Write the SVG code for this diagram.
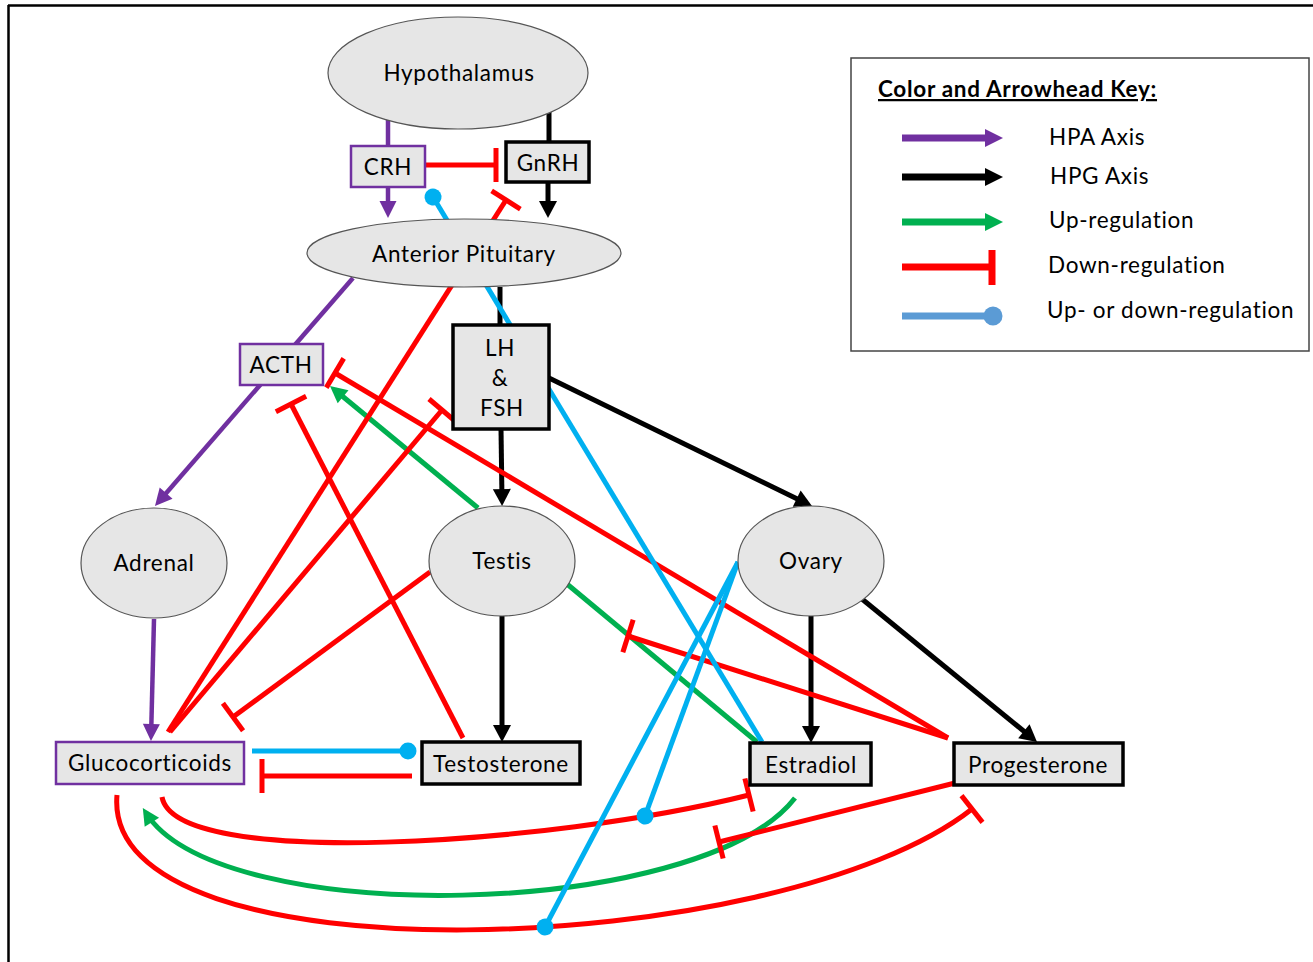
<svg xmlns="http://www.w3.org/2000/svg" width="1313" height="962" viewBox="0 0 1313 962">
<defs>
<style>
.t{font-family:Lato,"Liberation Sans",sans-serif;font-size:22.5px;letter-spacing:0.7px;fill:#000;text-anchor:middle}
.lt{font-family:Lato,"Liberation Sans",sans-serif;font-size:22.5px;letter-spacing:0.7px;fill:#000}
.ell{fill:#E6E6E6;stroke:#555;stroke-width:1.2}
.bp{fill:#E6E6E6;stroke:#7030A0;stroke-width:2.5}
.bk{fill:#E6E6E6;stroke:#000;stroke-width:3.5}
.c{fill:none;stroke-width:5;stroke-linecap:butt}
.pu{stroke:#7030A0;stroke-width:4.5}
.bl{stroke:#000}
.rd{stroke:#FF0000}
.gr{stroke:#00B050}
.cy{stroke:#00B0F0}
</style>
<marker id="aP" viewBox="-12 -10 20 20" markerWidth="20" markerHeight="20" refX="0" refY="0" orient="auto" markerUnits="userSpaceOnUse"><path d="M-11,-8.5 L6,0 L-11,8.5 Z" fill="#7030A0"/></marker>
<marker id="aK" viewBox="-12 -10 20 20" markerWidth="20" markerHeight="20" refX="0" refY="0" orient="auto" markerUnits="userSpaceOnUse"><path d="M-11,-9 L6,0 L-11,9 Z" fill="#000"/></marker>
<marker id="aG" viewBox="-12 -10 20 20" markerWidth="20" markerHeight="20" refX="0" refY="0" orient="auto" markerUnits="userSpaceOnUse"><path d="M-11,-8.5 L6,0 L-11,8.5 Z" fill="#00B050"/></marker>
<marker id="tR" viewBox="-4 -20 8 40" markerWidth="8" markerHeight="40" refX="0" refY="0" orient="auto" markerUnits="userSpaceOnUse"><path d="M0,-17 L0,17" stroke="#FF0000" stroke-width="5"/></marker>
<marker id="cB" viewBox="-10 -10 20 20" markerWidth="20" markerHeight="20" refX="0" refY="0" orient="auto" markerUnits="userSpaceOnUse"><circle r="8.5" fill="#00B0F0"/></marker>
</defs>
<rect width="1313" height="962" fill="#fff"/>
<path d="M8,5.5 L1313,5.5 M8.5,5 L8.5,962" stroke="#000" stroke-width="2.5" fill="none"/>

<g id="connectors">
<!-- purple HPA -->
<path class="c pu" d="M388,119 L388,146"/>
<path class="c pu" d="M388,187 L388,212" marker-end="url(#aP)"/>
<path class="c pu" d="M353,278 L158.9,501.5" marker-end="url(#aP)"/>
<path class="c pu" d="M154,619 L151.1,735" marker-end="url(#aP)"/>
<!-- black HPG -->
<path class="c bl" d="M549,112 L549,142"/>
<path class="c bl" d="M548,182 L548,212" marker-end="url(#aK)"/>
<path class="c bl" d="M500,287 L500,325"/>
<path class="c bl" d="M501,429 L502,500" marker-end="url(#aK)"/>
<path class="c bl" d="M549,378 L806.6,503.4" marker-end="url(#aK)"/>
<path class="c bl" d="M502,616 L502,736" marker-end="url(#aK)"/>
<path class="c bl" d="M811,616 L811,737" marker-end="url(#aK)"/>
<path class="c bl" d="M862,599 L1032.4,738.2" marker-end="url(#aK)"/>
<!-- green up-regulation -->
<path class="c gr" d="M478,508 L334.6,389.8" marker-end="url(#aG)"/>
<path class="c gr" d="M567,584 L757,742"/>
<path class="c gr" d="M795,798 C700,920 220,930 146,813" marker-end="url(#aG)"/>
<!-- red down-regulation -->
<path class="c rd" d="M425,165 L496,165" marker-end="url(#tR)"/>
<path class="c rd" d="M168,732 L506,200" marker-end="url(#tR)"/>
<path class="c rd" d="M170,732 L442,410" marker-end="url(#tR)"/>
<path class="c rd" d="M430,572 L233,717" marker-end="url(#tR)"/>
<path class="c rd" d="M463,738 L291,404" marker-end="url(#tR)"/>
<path class="c rd" d="M948,738 L335,373" marker-end="url(#tR)"/>
<path class="c rd" d="M948,738 L628,636" marker-end="url(#tR)"/>
<path class="c rd" d="M412,776 L262,776" marker-end="url(#tR)"/>
<path class="c rd" d="M162,797 C175,870 550,845 749,795" marker-end="url(#tR)"/>
<path class="c rd" d="M117,795 C100,985 780,960 972,809" marker-end="url(#tR)"/>
<path class="c rd" d="M955,783 L719,842" marker-end="url(#tR)"/>
<!-- blue up-or-down -->
<path class="c cy" d="M762,742 L433,197" marker-end="url(#cB)"/>
<path class="c cy" d="M252,751 L408,751" marker-end="url(#cB)"/>
<path class="c cy" d="M738,562 L645,816" marker-end="url(#cB)"/>
<path class="c cy" d="M738,562 L545,927" marker-end="url(#cB)"/>
</g>

<g id="hypothalamus"><ellipse class="ell" cx="458" cy="73" rx="130" ry="56"/><text class="t" x="459" y="81">Hypothalamus</text></g>
<g id="crh"><rect class="bp" x="351" y="146" width="74" height="41"/><text class="t" x="388" y="175">CRH</text></g>
<g id="gnrh"><rect class="bk" x="506" y="142" width="83" height="40"/><text class="t" x="548" y="171">GnRH</text></g>
<g id="anterior-pituitary"><ellipse class="ell" cx="464" cy="253" rx="157" ry="34"/><text class="t" x="464" y="262">Anterior Pituitary</text></g>
<g id="acth"><rect class="bp" x="240" y="344" width="83" height="41"/><text class="t" x="281" y="373">ACTH</text></g>
<g id="lh-fsh"><rect class="bk" x="453" y="325" width="96" height="104"/><text class="t" x="500" y="356">LH</text><text class="t" x="500" y="386">&amp;</text><text class="t" x="502" y="416">FSH</text></g>
<g id="adrenal"><ellipse class="ell" cx="154" cy="563" rx="73" ry="55"/><text class="t" x="154" y="571">Adrenal</text></g>
<g id="testis"><ellipse class="ell" cx="502" cy="561" rx="73" ry="55"/><text class="t" x="502" y="569">Testis</text></g>
<g id="ovary"><ellipse class="ell" cx="811" cy="561" rx="73" ry="55"/><text class="t" x="811" y="569">Ovary</text></g>
<g id="glucocorticoids"><rect class="bp" x="56" y="742" width="188" height="42"/><text class="t" x="150" y="771">Glucocorticoids</text></g>
<g id="testosterone"><rect class="bk" x="422" y="742" width="158" height="42"/><text class="t" x="501" y="772">Testosterone</text></g>
<g id="estradiol"><rect class="bk" x="750" y="743" width="121" height="42"/><text class="t" x="811" y="773">Estradiol</text></g>
<g id="progesterone"><rect class="bk" x="954" y="743" width="169" height="42"/><text class="t" x="1038" y="773">Progesterone</text></g>

<g id="legend">
<rect x="851" y="58" width="458" height="293" fill="#fff" stroke="#444" stroke-width="1.5"/>
<text class="lt" x="878" y="97" font-weight="bold" text-decoration="underline" letter-spacing="0.3">Color and Arrowhead Key:</text>
<path d="M902,138 L985,138" stroke="#7030A0" stroke-width="7"/><path d="M985,129 L1003,138 L985,147 Z" fill="#7030A0"/>
<path d="M902,177 L985,177" stroke="#000" stroke-width="7"/><path d="M985,168 L1003,177 L985,186 Z" fill="#000"/>
<path d="M902,222 L985,222" stroke="#00B050" stroke-width="7"/><path d="M985,213 L1003,222 L985,231 Z" fill="#00B050"/>
<path d="M902,267 L992,267 M992,250 L992,285" stroke="#FF0000" stroke-width="7" fill="none"/>
<path d="M902,316 L993,316" stroke="#5B9BD5" stroke-width="7"/><circle cx="993" cy="316" r="9.5" fill="#5B9BD5"/>
<text class="lt" x="1049" y="145">HPA Axis</text>
<text class="lt" x="1050" y="184">HPG Axis</text>
<text class="lt" x="1049" y="228">Up-regulation</text>
<text class="lt" x="1048" y="273">Down-regulation</text>
<text class="lt" x="1047" y="318">Up- or down-regulation</text>
</g>
</svg>
